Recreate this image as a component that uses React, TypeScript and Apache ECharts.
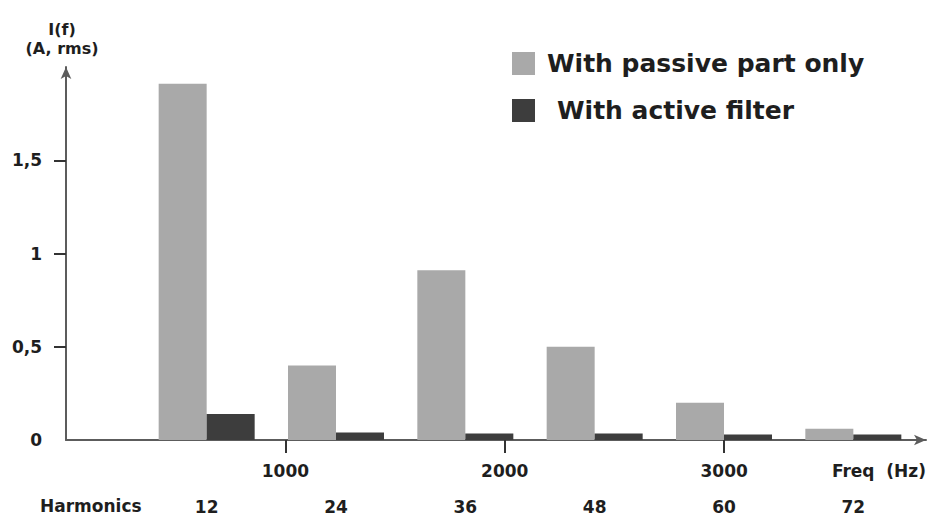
import React, { useEffect, useRef } from "react";
import * as echarts from "echarts";

const harmonics = ["12", "24", "36", "48", "60", "72"];
const passiveValues = [1.91, 0.4, 0.91, 0.5, 0.2, 0.06];
const activeValues = [0.14, 0.04, 0.035, 0.035, 0.03, 0.03];
const yLabelValues = [0, 0.5, 1, 1.5];
const yTickValues = [0.5, 1, 1.5];
const freqTicks = [1000, 2000, 3000];
const seriesNames = ["With passive part only", "With active filter"];

const FONT = '"DejaVu Sans", sans-serif';
const TXT = "#1e1e1e";
const AXIS = "#5c5c5c";

export default function App() {
  const ref = useRef<HTMLDivElement>(null);
  useEffect(() => {
    if (!ref.current) return;
    const chart = echarts.init(ref.current, undefined, { renderer: "svg" });
    const labelStyle = { fontFamily: FONT, fontWeight: "bold", fontSize: 17, color: TXT };
    chart.setOption({
      animation: false,
      backgroundColor: "#ffffff",
      grid: [
        { left: 142, right: 10, top: 67, bottom: 78 },
        { left: 66, right: 2, top: 67, bottom: 78 },
      ],
      legend: {
        orient: "vertical",
        left: 507,
        top: 46,
        itemWidth: 23,
        itemHeight: 23,
        itemGap: 22,
        icon: "rect",
        textStyle: { fontFamily: FONT, fontWeight: "bold", fontSize: 25, color: TXT, padding: [0, 0, 0, 7] },
        data: [
          { name: seriesNames[0] },
          { name: seriesNames[1], textStyle: { padding: [0, 0, 0, 17] } },
        ],
      },
      xAxis: [
        {
          type: "category",
          gridIndex: 0,
          data: harmonics,
          axisLine: { show: false },
          axisTick: { show: false },
          axisLabel: { ...labelStyle, margin: 58 },
        },
        {
          type: "value",
          gridIndex: 1,
          min: 0,
          max: 3920,
          splitLine: { show: false },
          axisLine: {
            show: true,
            lineStyle: { color: AXIS, width: 2 },
            symbol: ["none", "arrow"],
            symbolSize: [8, 12],
          },
          axisTick: { show: true, customValues: freqTicks, length: 13, lineStyle: { color: "#333", width: 2 } },
          axisLabel: { ...labelStyle, customValues: freqTicks, margin: 22, formatter: (v: number) => String(v) },
        },
      ],
      yAxis: [
        { type: "value", gridIndex: 0, min: 0, max: 2, show: false, splitLine: { show: false } },
        {
          type: "value",
          gridIndex: 1,
          min: 0,
          max: 2,
          splitLine: { show: false },
          name: "I(f)\n(A, rms)",
          nameLocation: "end",
          nameGap: 9,
          nameTextStyle: { fontFamily: FONT, fontWeight: "bold", fontSize: 16, lineHeight: 19, color: TXT, align: "center", padding: [0, 8, 0, 0] },
          axisLine: {
            show: true,
            lineStyle: { color: AXIS, width: 2 },
            symbol: ["none", "arrow"],
            symbolSize: [8, 12],
          },
          axisTick: { show: true, customValues: yTickValues, length: 12, lineStyle: { color: "#333", width: 2 } },
          axisLabel: {
            ...labelStyle,
            customValues: yLabelValues,
            margin: 24,
            formatter: (v: number) => String(v).replace(".", ","),
          },
        },
      ],
      series: [
        {
          name: seriesNames[0],
          type: "bar",
          xAxisIndex: 0,
          yAxisIndex: 0,
          data: passiveValues,
          barWidth: 48,
          barGap: "0%",
          itemStyle: { color: "#a9a9a9" },
        },
        {
          name: seriesNames[1],
          type: "bar",
          xAxisIndex: 0,
          yAxisIndex: 0,
          data: activeValues,
          barWidth: 48,
          barGap: "0%",
          itemStyle: { color: "#3d3d3d" },
        },
      ],
      graphic: [
        { type: "text", left: 40, top: 497, style: { text: "Harmonics", font: `bold 17px ${FONT}`, fill: TXT } },
        { type: "text", right: 2, top: 462, style: { text: "Freq  (Hz)", font: `bold 17px ${FONT}`, fill: TXT } },
      ],
    });
    return () => chart.dispose();
  }, []);
  return <div ref={ref} style={{ position: "absolute", left: 0, top: 0, width: 928, height: 518 }} />;
}
